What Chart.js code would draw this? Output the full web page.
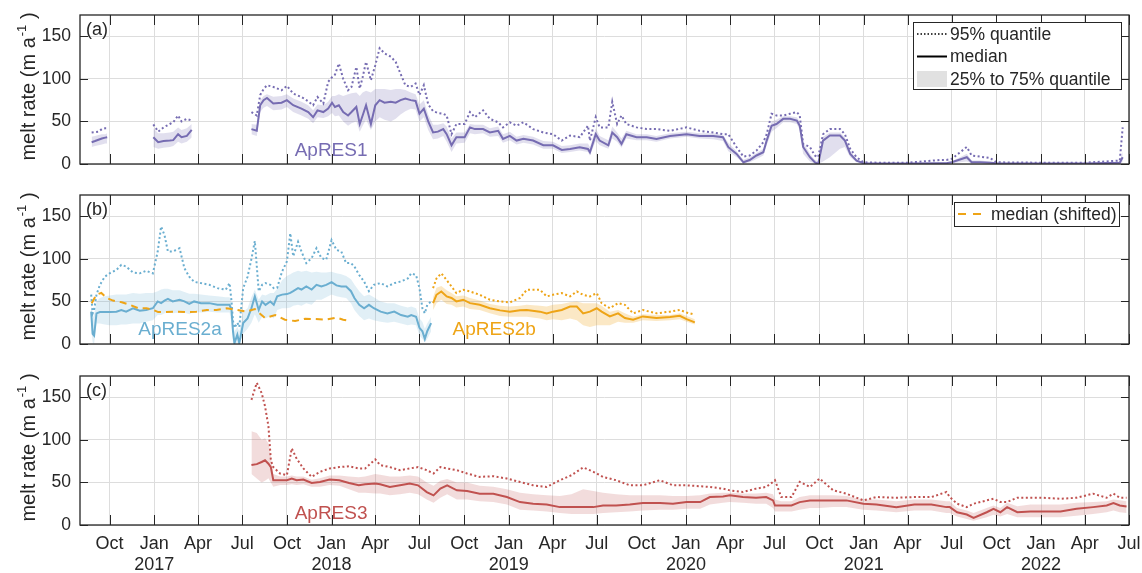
<!DOCTYPE html>
<html>
<head>
<meta charset="utf-8">
<script src="https://cdn.jsdelivr.net/npm/chart.js@4.4.0/dist/chart.umd.min.js"></script>
<style>
  html, body { margin: 0; padding: 0; background: #fff; }
  #wrap { position: relative; width: 1142px; height: 573px; overflow: hidden; background: #fff; }
  #wrap canvas { position: absolute; left: 0; }
</style>
</head>
<body>
<div id="wrap">
  <canvas id="panelA" width="1142" height="180" style="top:0px"></canvas>
  <canvas id="panelB" width="1142" height="180" style="top:180px"></canvas>
  <canvas id="panelC" width="1142" height="213" style="top:360px"></canvas>
</div>
<script>
// ---------- axes ----------
const xStart = '2016-08-01';
const xEnd = '2022-07-01';
const xTickDates = ['2016-10-01','2017-01-01','2017-04-01','2017-07-01','2017-10-01','2018-01-01','2018-04-01',
  '2018-07-01','2018-10-01','2019-01-01','2019-04-01','2019-07-01','2019-10-01','2020-01-01','2020-04-01',
  '2020-07-01','2020-10-01','2021-01-01','2021-04-01','2021-07-01','2021-10-01','2022-01-01','2022-04-01','2022-07-01'];
const monthNames = { 1: 'Jan', 4: 'Apr', 7: 'Jul', 10: 'Oct' };
const yTicks = [0, 50, 100, 150];
const yMax = 175;
const yTitle = 'melt rate (m a';
const yTitleSup = '-1';

// ---------- ApRES1 ----------
const apres1Dates = [
  '2016-08-25','2016-09-01','2016-09-08','2016-09-15','2016-09-22','2016-09-26','2016-11-15',
  '2016-12-30','2017-01-09','2017-01-20','2017-02-02','2017-02-09','2017-02-19','2017-02-26','2017-03-09','2017-03-19','2017-05-15',
  '2017-07-20','2017-07-31','2017-08-07','2017-08-14','2017-08-21','2017-09-03','2017-09-20','2017-10-01','2017-10-14','2017-10-31',
  '2017-11-14','2017-11-24','2017-12-03','2017-12-15','2017-12-25','2018-01-02','2018-01-08','2018-01-16','2018-01-25','2018-02-04',
  '2018-02-11','2018-02-21','2018-02-28','2018-03-06','2018-03-13','2018-03-23','2018-04-01','2018-04-10','2018-04-20','2018-05-03',
  '2018-05-13','2018-05-23','2018-06-02','2018-06-13','2018-06-23','2018-07-01','2018-07-10','2018-07-19','2018-07-29','2018-08-08',
  '2018-08-19','2018-08-26','2018-09-05','2018-09-15','2018-10-02','2018-10-13','2018-10-23','2018-11-09','2018-11-23','2018-12-10',
  '2018-12-20','2019-01-03','2019-01-17','2019-01-31','2019-02-20','2019-03-13','2019-04-02','2019-04-20','2019-05-07','2019-05-27',
  '2019-06-13','2019-06-17','2019-06-29','2019-07-07','2019-07-25','2019-08-02','2019-08-12','2019-08-21','2019-08-31','2019-09-21',
  '2019-10-12','2019-11-01','2019-11-29','2020-01-02','2020-01-29','2020-02-26','2020-03-17','2020-03-28','2020-04-14','2020-04-28',
  '2020-05-11','2020-05-25','2020-06-08','2020-06-15','2020-06-25','2020-07-05','2020-07-19','2020-08-02','2020-08-16','2020-08-22',
  '2020-08-29','2020-09-12','2020-09-22','2020-09-29','2020-10-09','2020-10-23','2020-11-13','2020-11-23','2020-12-04','2020-12-17',
  '2020-12-31','2021-02-01','2021-04-01','2021-06-07','2021-06-20','2021-07-01','2021-08-01','2021-08-11','2021-08-28','2021-09-18',
  '2021-10-01','2022-01-01','2022-04-01','2022-06-12','2022-06-18'
];
const apres1Median = [
  25.6,27,28.5,30,31,31.5,null,
  31.5,25.6,27,27.5,28,35,31.5,33,40,null,
  41,39,69,75,77.5,71,72,75,69,65,
  61,55,63,61,65,72,67,69,61,57,
  61,67,47,57,69,47,69,75,72,73,
  72,75,77,75,74,59,65,50,37,38,
  41,35,22,31.5,31.5,43,41,41,37,39,
  29.5,33,27.5,29.5,27.5,22,22,16.5,17.7,19.7,
  17.7,13.8,35,27.5,22,37,31.5,23.6,35,31.5,
  31.5,29.5,33,35,33,33,31.5,19.7,11.8,2,
  4.7,10,13.8,27.5,45,47,53,53,51,45,
  20,8,2,0,27.5,33.5,33.5,27.5,11.8,4,
  1,0.5,0.5,1,1,2,8,2,2,1.5,
  1,0.5,0.5,1.5,8
];
const apres1Q95 = [
  37,37.5,38,41,42,42,null,
  46.5,38,43,47,49,57,50,53,51,null,
  61,57,81,88,92.5,90.5,86.6,91.7,82.7,78.7,
  73.6,69,78.7,71,96.5,102,105,118,100,86.6,
  90.5,114,88.6,102,120,98.4,116,136,130,126,
  120,106,92.5,90.5,94.5,81,92.5,70,62,60,
  59,57,35,47,47,61,55,63,53,49,
  43,49,45,49,41,37,35,27.5,33.5,31.5,
  45,27.5,55,43,43,73,47,57,47,43,
  41,41,39,43,39,37,35,35,19.7,8.7,
  10,15.7,25.6,35,59,57,57,59,61,57,
  23.6,20,10,8,35,41,41,35,17.7,8,
  2,1.5,1.5,4.7,4.7,6,20,10,8.7,7,
  2,1.5,1.5,4,43
];
const apres1Q25 = [
  20,21,22,23,24,24,null,
  20,18,19,20,21,26,24,26,31,null,
  35,33,61,66,68,63,64,67,61,57,
  53,48,55,54,56,60,56,57,50,45,
  48,50,38,45,52,40,50,55,52,50,
  53,58,62,65,64,50,55,40,29,30,
  33,26,14,24,25,36,35,36,32,33,
  25,28,23,25,23,18,18,13,14,16,
  14,10,27,22,18,30,26,19,30,28,
  28,26,30,32,30,29,27,15,8,1,
  2,6,10,22,38,42,49,49,47,40,
  12,3,0.5,0,3,8,18,20,8,2,
  0.5,0.2,0.2,0.5,0.5,1,3,1,1,0.5,
  0.5,0.2,0.2,0.5,2
];
const apres1Q75 = [
  32,33,34,35,35,36,null,
  42,36,36,37,38,43,40,42,47,null,
  47,46,75,80,82,79,80,82,77,73,
  69,63,70,69,73,80,80,82,80,82,
  83,84,80,84,86,84,88,88,88,87,
  88,88,87,84,82,70,75,58,46,46,
  48,44,30,37,37,47,46,46,42,44,
  35,38,32,34,32,27,26,21,22,24,
  24,20,42,33,28,44,37,30,39,35,
  35,33,36,38,36,36,34,25,15,5,
  8,13,18,32,50,52,56,56,55,50,
  26,12,5,3,32,37,37,31,15,6,
  1.5,1,1,2,2,3,12,4,4,3,
  1.5,1,1,3,15
];

// ---------- ApRES2a ----------
const apres2aDates = [
  '2016-08-24','2016-08-27','2016-08-30','2016-09-04','2016-09-11','2016-09-21','2016-10-01','2016-10-15','2016-10-25','2016-11-04',
  '2016-11-18','2016-12-02','2016-12-15','2016-12-29','2017-01-08','2017-01-15','2017-01-22','2017-01-29','2017-02-08','2017-02-22',
  '2017-03-04','2017-03-14','2017-03-24','2017-04-07','2017-04-24','2017-05-11','2017-05-28','2017-06-05','2017-06-09','2017-06-12',
  '2017-06-15','2017-06-21','2017-06-25','2017-07-03','2017-07-12','2017-07-20','2017-07-27','2017-08-04','2017-08-11','2017-08-18',
  '2017-08-28','2017-09-04','2017-09-11','2017-09-21','2017-10-01','2017-10-08','2017-10-14','2017-10-24','2017-10-31','2017-11-10',
  '2017-11-21','2017-12-01','2017-12-11','2017-12-21','2018-01-01','2018-01-11','2018-01-21','2018-01-31','2018-02-10','2018-02-17',
  '2018-02-27','2018-03-09','2018-03-19','2018-03-29','2018-04-12','2018-04-26','2018-05-10','2018-05-24','2018-06-07','2018-06-14',
  '2018-06-24','2018-07-01','2018-07-07','2018-07-12','2018-07-17','2018-07-25'
];
const apres2aMedian = [
  38,12,10,36,37.5,37.5,37.5,38,40,38,
  42,39,40,42,50,48,51,53,50,52,
  50,47,50,48,48,46,46,46,40,15,
  1,11,1,24.6,30,42,56,40,50,46,
  50,46,56,58,58.6,60,62,65.6,64,67.6,
  64,69.5,67.6,69.5,72.6,68.8,67.6,67.6,62,54,
  46,42,46,42,38,36,38,34,32,34,
  32,19,15,6,15,24.6
];
const apres2aQ95 = [
  58,36,40,58,69.5,79,83,87,93,91,
  84,83,86,83,108.6,138,128,108.6,108.6,112.5,
  89,79,73,71.5,69.5,65.6,63.7,71.5,50,27,
  19,25,20,65.6,79,100,121,62,69.5,71.5,
  69.5,65.6,66,85,97,130,103,120,108.6,95,
  101,112.5,101,99,122,110.5,108.6,95,95,91,
  81,73.4,62,69.5,71.5,67.6,71.5,73.4,77,83,
  81,65.6,42,36,46,50
];
const apres2aQ25 = [
  20,2,0,24,24,23,22,22,23,23,
  24,24,26,28,34,34,36,38,36,37,
  37,35,38,37,38,37,37,37,25,2,
  0,0,0,12,18,25,35,25,32,30,
  33,30,40,42,42,43,45,46,45,48,
  46,52,52,55,58,56,55,54,48,40,
  33,28,30,28,26,25,26,24,22,23,
  22,10,6,2,6,15
];
const apres2aQ75 = [
  48,30,35,50,54,56,57,58,58,58,
  60,59,60,60,62,64,65,65,63,63,
  61,59,59,58,57,56,55,55,48,25,
  15,20,15,38,42,55,64,52,58,57,
  60,60,65,75,80,82,84,86,85,86,
  84,85,84,84,85,83,82,80,76,70,
  62,56,58,55,50,48,48,45,43,44,
  42,30,26,18,24,32
];

// ---------- ApRES2b ----------
const apres2bDates = [
  '2018-07-29','2018-08-05','2018-08-15','2018-08-26','2018-09-05','2018-09-15','2018-09-29','2018-10-13','2018-11-02','2018-11-23',
  '2018-12-14','2019-01-03','2019-01-24','2019-02-07','2019-03-06','2019-03-20','2019-04-02','2019-04-20','2019-05-07','2019-05-21',
  '2019-06-03','2019-06-17','2019-07-01','2019-07-11','2019-07-28','2019-08-14','2019-08-28','2019-09-14','2019-10-04','2019-11-01',
  '2019-11-29','2019-12-19','2020-01-02','2020-01-19'
];
const apres2bMedian = [
  48,57.8,61.7,55.9,54,50,52,48,46,42,
  39.5,38,39.5,40,38,36,38,40,44,44,
  36,38,42,38,32.4,36,30.5,28.5,32.4,30.5,
  31.6,33.2,29.3,25.4
];
const apres2bQ95 = [
  65.6,77,83,75,67.6,59.8,63.7,61.7,57.8,52,
  50,48.8,54,63.7,63.7,55.9,57.8,59.8,55.9,61.7,
  57.8,55.9,59.8,48,42,48,46,36,40,36,
  38,40,37,34.4
];
const apres2bQ25 = [
  40,48,52,47,46,43,44,41,40,36,
  33,32,32,32,30,28,29,28,30,28,
  22,20,22,22,22,26,25,25,28,27,
  28,29,26,23
];
const apres2bQ75 = [
  55,66,68,63,60,56,57,54,51,47,
  45,44,45,46,45,44,46,47,49,50,
  48,48,48,45,38,40,36,32,35,34,
  34,36,33,29
];

// ---------- ApRES2a median, shifted ----------
const shiftedDates = [
  '2016-08-25','2016-09-04','2016-09-14','2016-09-25','2016-10-08','2016-10-26','2016-11-12','2016-11-29','2016-12-16','2016-12-30',
  '2017-01-09','2017-01-26','2017-02-16','2017-03-09','2017-03-29','2017-04-19','2017-05-09','2017-05-30','2017-06-20','2017-07-10',
  '2017-07-27','2017-08-17','2017-09-07','2017-09-27','2017-10-18','2017-11-08','2017-11-28','2017-12-19','2018-01-11','2018-01-25',
  '2018-02-08'
];
const shiftedMedian = [
  48,58,60,54,51,49,46,42,42,40,
  37.5,37.5,38,37.5,38,40,40,42,40,38,
  41,30.5,34,28.5,27,29.7,29.3,28.5,31,28.5,
  27
];

// ---------- ApRES3 ----------
const apres3Dates = [
  '2017-07-20','2017-07-31','2017-08-10','2017-08-17','2017-08-24','2017-08-29','2017-09-03','2017-09-17','2017-10-01','2017-10-11',
  '2017-10-21','2017-11-04','2017-11-21','2017-12-08','2017-12-28','2018-01-17','2018-02-06','2018-02-26','2018-03-11','2018-04-01',
  '2018-04-11','2018-05-01','2018-05-22','2018-06-11','2018-06-28','2018-07-16','2018-07-30','2018-08-13','2018-08-27','2018-09-16',
  '2018-10-07','2018-11-02','2018-11-30','2018-12-28','2019-01-24','2019-02-20','2019-03-20','2019-04-16','2019-05-10','2019-06-03',
  '2019-06-24','2019-07-14','2019-08-10','2019-09-07','2019-10-04','2019-11-08','2019-12-05','2020-01-02','2020-01-30','2020-02-19',
  '2020-03-17','2020-03-31','2020-04-27','2020-05-24','2020-06-14','2020-06-28','2020-07-02','2020-07-15','2020-08-05','2020-08-22',
  '2020-09-12','2020-10-02','2020-10-30','2020-11-26','2020-12-31','2021-01-27','2021-03-09','2021-04-15','2021-05-20','2021-06-20',
  '2021-06-27','2021-07-12','2021-08-01','2021-08-15','2021-09-11','2021-09-25','2021-10-09','2021-10-23','2021-11-13','2021-12-10',
  '2022-01-05','2022-02-10','2022-03-15','2022-04-18','2022-05-16','2022-05-30','2022-06-12','2022-06-26'
];
const apres3Median = [
  70.4,71.5,74,76,72,68,52.6,52.6,52.6,54.5,
  52.6,53.4,49.4,50.6,53.4,52.6,49.4,46.6,47.8,48.6,
  47.8,44.7,46.6,48.6,46.6,38.7,34.8,42.7,46.6,40.7,
  40,36.8,36.8,32.8,26.9,24.9,24.1,21,21,21,
  21,22.9,22.9,24.1,25.7,25.7,24.9,26.9,26.9,32.8,
  33.6,34.8,32.8,32,32.8,28.9,22.9,22.9,22.9,26.9,
  28.9,28.9,28.9,28.9,24.9,24.1,21,24,24,21,
  21,15,12.3,8.3,15,19,15,21,15,16,
  16,16,19,21,22.9,25.7,22.9,21.7
];
const apres3Q95 = [
  147,167,155,139.5,116,76,68,60.5,58.5,90,
  78,66.4,56.5,62.5,66.4,68,69,66.4,66.4,77,
  70.4,68,64.4,66.4,68,64.4,60.5,68,66.4,64.4,
  60.5,56.5,57.3,54.5,50.6,46.6,44.7,52.6,58.5,67.6,
  62.5,56.5,52.6,46.6,46.6,52.6,46.6,46.6,45.5,44.7,
  42.7,40.7,38.7,42.7,44.7,50.6,52.6,32.8,32.8,50.6,
  44.7,54.5,40.7,36.8,28.9,32.8,32,32.8,32.8,38.7,
  32.8,25,21,25,28.9,30.8,27,27,32,32,
  32,30.8,32,36.8,32,36.8,32,32
];
const apres3Q25 = [
  60,54.5,50,52,55,50,45,47,47,48,
  47,48,45,45,47,46,42,38,38,37,
  37,35,36,38,36,30,26,32,36,30,
  30,28,27,24,18,17,16,14,13,13,
  13,14,15,16,17,18,18,19,19,24,
  26,27,26,25,25,20,16,16,16,18,
  20,20,21,21,18,17,15,17,17,14,
  14,10,7,5,9,12,10,13,9,9,
  9,9,11,13,15,17,15,14
];
const apres3Q75 = [
  110,108,100,102,96,80,60,57,57,58,
  57,57,53,55,58,58,57,56,57,60,
  59,57,57,58,57,50,46,52,54,50,
  50,46,45,42,38,36,35,34,36,42,
  40,38,36,35,35,35,34,34,35,37,
  38,38,37,37,38,36,30,28,28,33,
  35,35,35,34,30,30,28,30,30,28,
  28,20,17,14,20,23,20,26,22,24,
  24,24,26,27,28,30,29,28
];

// ---------- styling ----------
const FONT = '"Liberation Sans", Arial, Helvetica, sans-serif';
const TEXT = '#262626';
const GRID = '#dddddd';
const C1 = '#766cb2', C1_BAND = 'rgba(118,108,178,0.22)';
const C2A = '#6aaed0', C2A_BAND = 'rgba(106,174,208,0.20)';
const C2B = '#eea416', C2B_BAND = 'rgba(238,164,22,0.25)';
const C3 = '#c0514f', C3_BAND = 'rgba(192,81,79,0.20)';

Chart.defaults.font.family = FONT;

const ORIGIN = Date.UTC(2016, 7, 1);
function dayOf(s) {
  const p = s.split('-');
  return (Date.UTC(+p[0], +p[1] - 1, +p[2]) - ORIGIN) / 86400000;
}
function points(dates, vals) {
  return dates.map((d, i) => ({ x: dayOf(d), y: vals[i] }));
}

// band (25-75 %), dotted 95 % line and solid median for one station
function quantileSets(dates, med, q25, q75, q95, line, band) {
  const base = { pointRadius: 0, pointHoverRadius: 0, tension: 0, spanGaps: false };
  return [
    { ...base, data: points(dates, q75), borderColor: 'transparent', borderWidth: 0, backgroundColor: band, fill: '+1', order: 3 },
    { ...base, data: points(dates, q25), borderColor: 'transparent', borderWidth: 0, fill: false, order: 3 },
    { ...base, data: points(dates, q95), borderColor: line, borderWidth: 2, borderDash: [2, 2.5], fill: false, order: 2 },
    { ...base, data: points(dates, med), borderColor: line, borderWidth: 2, fill: false, order: 1 }
  ];
}

function drawYTitle(ctx, x, cy) {
  ctx.save();
  ctx.translate(x, cy);
  ctx.rotate(-Math.PI / 2);
  ctx.fillStyle = TEXT;
  ctx.textBaseline = 'alphabetic';
  ctx.textAlign = 'left';
  const big = '20px ' + FONT, small = '13px ' + FONT;
  ctx.font = big; const w1 = ctx.measureText(yTitle).width; const w3 = ctx.measureText(' )').width;
  ctx.font = small; const w2 = ctx.measureText(yTitleSup).width;
  const x0 = -(w1 + w2 + w3 + 1) / 2;
  ctx.font = big; ctx.fillText(yTitle, x0, 0);
  ctx.font = small; ctx.fillText(yTitleSup, x0 + w1 + 1, -9);
  ctx.font = big; ctx.fillText(' )', x0 + w1 + w2 + 1, 0);
  ctx.restore();
}

function drawLegend(ctx, a, lg) {
  const x0 = a.right - lg.rightGap - lg.width;
  const y0 = a.top + lg.topGap;
  ctx.save();
  ctx.fillStyle = '#ffffff';
  ctx.fillRect(x0, y0, lg.width, lg.height);
  ctx.strokeStyle = TEXT;
  ctx.lineWidth = 1;
  ctx.strokeRect(Math.round(x0) + 0.5, Math.round(y0) + 0.5, lg.width, lg.height);
  lg.items.forEach((it, i) => {
    const cy = y0 + lg.rowTop + i * lg.rowStep;
    const sx = x0 + 4;
    if (it.kind === 'patch') {
      ctx.fillStyle = it.color;
      ctx.fillRect(sx, cy - 8, 30, 16);
    } else {
      ctx.strokeStyle = it.color;
      ctx.lineWidth = it.width;
      ctx.setLineDash(it.dash);
      ctx.beginPath();
      ctx.moveTo(sx, cy); ctx.lineTo(sx + it.len, cy);
      ctx.stroke();
      ctx.setLineDash([]);
    }
    ctx.fillStyle = TEXT;
    ctx.font = '17.5px ' + FONT;
    ctx.textAlign = 'left';
    ctx.textBaseline = 'middle';
    ctx.fillText(it.text, x0 + 37, cy + 1);
  });
  ctx.restore();
}

// frame with inward ticks, panel tag, station names, legend, y title
const decor = {
  id: 'decor',
  afterDraw(chart, args, o) {
    const ctx = chart.ctx, a = chart.chartArea, xs = chart.scales.x, ys = chart.scales.y;
    ctx.save();
    ctx.strokeStyle = TEXT;
    ctx.lineWidth = 1;
    ctx.beginPath();
    xs.ticks.forEach(t => {
      const px = Math.round(xs.getPixelForValue(t.value)) + 0.5;
      ctx.moveTo(px, a.bottom); ctx.lineTo(px, a.bottom - 10);
      ctx.moveTo(px, a.top); ctx.lineTo(px, a.top + 10);
    });
    ys.ticks.forEach(t => {
      const py = Math.round(ys.getPixelForValue(t.value)) + 0.5;
      ctx.moveTo(a.left, py); ctx.lineTo(a.left + 8, py);
      ctx.moveTo(a.right, py); ctx.lineTo(a.right - 8, py);
    });
    ctx.stroke();
    ctx.lineWidth = 1.3;
    ctx.strokeRect(a.left, a.top, a.right - a.left, a.bottom - a.top);

    ctx.fillStyle = TEXT;
    ctx.font = '18px ' + FONT;
    ctx.textAlign = 'left';
    ctx.textBaseline = 'middle';
    ctx.fillText(o.tag, a.left + 6, a.top + 15);

    (o.names || []).forEach(n => {
      ctx.fillStyle = n.color;
      ctx.font = '19px ' + FONT;
      ctx.textAlign = 'left';
      ctx.textBaseline = 'middle';
      ctx.fillText(n.text, xs.getPixelForValue(dayOf(n.date)), ys.getPixelForValue(n.value));
    });
    ctx.restore();

    if (o.legend) drawLegend(ctx, a, o.legend);
    drawYTitle(ctx, 35, (a.top + a.bottom) / 2 - 3);
  }
};

function makePanel(id, datasets, deco, showX, topPad, xHeight) {
  return new Chart(document.getElementById(id), {
    type: 'line',
    data: { datasets },
    options: {
      responsive: false,
      animation: false,
      devicePixelRatio: 1,
      events: [],
      layout: { padding: { top: topPad, right: 13, bottom: 0, left: 0 } },
      plugins: { legend: { display: false }, tooltip: { enabled: false }, decor: deco },
      scales: {
        x: {
          type: 'linear',
          min: dayOf(xStart),
          max: dayOf(xEnd),
          grid: { color: GRID, lineWidth: 1, drawTicks: false },
          border: { display: false },
          afterBuildTicks: ax => { ax.ticks = xTickDates.map(d => ({ value: dayOf(d) })); },
          afterFit: ax => { ax.height = xHeight; ax.paddingLeft = 0; ax.paddingRight = 0; },
          ticks: {
            display: showX,
            autoSkip: false,
            maxRotation: 0,
            minRotation: 0,
            padding: 8,
            color: TEXT,
            font: { family: FONT, size: 18 },
            callback: (v, i) => {
              const d = xTickDates[i];
              const m = +d.slice(5, 7);
              return m === 1 ? [monthNames[m], d.slice(0, 4)] : monthNames[m];
            }
          }
        },
        y: {
          min: 0,
          max: yMax,
          grid: { color: GRID, lineWidth: 1, drawTicks: false },
          border: { display: false },
          afterBuildTicks: ax => { ax.ticks = yTicks.map(v => ({ value: v })); },
          afterFit: ax => { ax.width = 80; ax.paddingTop = 0; ax.paddingBottom = 0; },
          ticks: { padding: 9, color: TEXT, font: { family: FONT, size: 17.5 } }
        }
      }
    },
    plugins: [decor]
  });
}

// (a) ApRES1
makePanel('panelA',
  quantileSets(apres1Dates, apres1Median, apres1Q25, apres1Q75, apres1Q95, C1, C1_BAND),
  {
    tag: '(a)',
    names: [{ text: 'ApRES1', date: '2017-10-17', value: 15.7, color: C1 }],
    legend: {
      width: 208, height: 67, rightGap: 8, topGap: 7, rowTop: 12, rowStep: 22.5,
      items: [
        { kind: 'line', text: '95% quantile', color: '#000', width: 1.5, dash: [1.5, 2], len: 30 },
        { kind: 'line', text: 'median', color: '#000', width: 2, dash: [], len: 30 },
        { kind: 'patch', text: '25% to 75% quantile', color: '#e1e1e1' }
      ]
    }
  }, false, 15, 16);

// (b) ApRES2a / ApRES2b
const panelBSets = [
  ...quantileSets(apres2aDates, apres2aMedian, apres2aQ25, apres2aQ75, apres2aQ95, C2A, C2A_BAND),
  ...quantileSets(apres2bDates, apres2bMedian, apres2bQ25, apres2bQ75, apres2bQ95, C2B, C2B_BAND),
  { data: points(shiftedDates, shiftedMedian), borderColor: C2B, borderWidth: 2, borderDash: [7, 5],
    pointRadius: 0, tension: 0, fill: false, order: 0 }
];
makePanel('panelB', panelBSets,
  {
    tag: '(b)',
    names: [
      { text: 'ApRES2a', date: '2016-11-29', value: 16.8, color: C2A },
      { text: 'ApRES2b', date: '2018-09-07', value: 16.8, color: C2B }
    ],
    legend: {
      width: 165, height: 24, rightGap: 10, topGap: 7, rowTop: 12, rowStep: 0,
      items: [{ kind: 'line', text: 'median (shifted)', color: C2B, width: 2, dash: [8, 7], len: 24 }]
    }
  }, false, 15, 16);

// (c) ApRES3
makePanel('panelC',
  quantileSets(apres3Dates, apres3Median, apres3Q25, apres3Q75, apres3Q95, C3, C3_BAND),
  {
    tag: '(c)',
    names: [{ text: 'ApRES3', date: '2017-10-17', value: 13.4, color: C3 }]
  }, true, 16, 48);
</script>
</body>
</html>
